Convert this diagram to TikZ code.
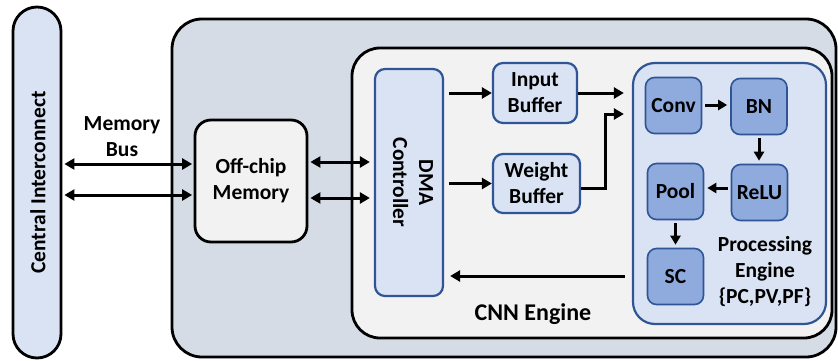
\documentclass[tikz,border=0pt]{standalone}
\usepackage{fontspec}
\setmainfont{Carlito}
\usetikzlibrary{arrows.meta}
\definecolor{lb}{HTML}{DAE3F3}
\definecolor{gb}{HTML}{D6DCE5}
\definecolor{lg}{HTML}{F2F2F2}
\definecolor{bb}{HTML}{2F5597}
\definecolor{mb}{HTML}{8FAADC}
\begin{document}
\begin{tikzpicture}[x=1pt,y=-1pt,
  font=\fontsize{21.5}{26}\selectfont\bfseries,
  base/.style={rectangle, inner sep=0pt, align=center},
  blackbox/.style={base, draw=black, line width=2.8pt},
  bluebox/.style={base, draw=bb, line width=2.2pt, fill=lb},
  opbox/.style={base, draw=bb, line width=1.6pt, fill=mb, rounded corners=9pt, minimum width=56pt, minimum height=56pt},
  tip/.style={Triangle[length=10pt,width=11pt]},
  arr/.style={-{Triangle[length=10pt,width=11pt]}, line width=3pt},
  dbl/.style={{Triangle[length=10pt,width=11pt]}-{Triangle[length=10pt,width=11pt]}, line width=3pt},
  sarr/.style={-{Triangle[length=9pt,width=10pt]}, line width=3pt, shorten <=3pt, shorten >=3pt},
  lbl/.style={align=center, inner sep=0pt}
]
\useasboundingbox (0,0) rectangle (838,361);

% containers
\node[blackbox, fill=gb, rounded corners=30pt, minimum width=664pt, minimum height=338pt] (chip) at (504,188) {};
\node[blackbox, fill=lg, rounded corners=28pt, minimum width=480pt, minimum height=290pt] (cnn) at (592,193) {};
\node[lbl, font=\fontsize{24}{28}\selectfont\bfseries] (cnnlbl) at (533,314) {CNN Engine};

% central interconnect
\node[blackbox, fill=lb, rounded corners=24pt, minimum width=48pt, minimum height=351pt] (ci) at (37,182.5) {};
\node[lbl, rotate=90] (citext) at (38,182.5) {Central Interconnect};

% off-chip memory
\node[blackbox, fill=lg, rounded corners=16pt, minimum width=112pt, minimum height=122pt] (ocm) at (251,181) {Off-chip\\Memory};
\node[lbl] (mbus) at (122,136.5) {Memory\\Bus};

% DMA
\node[bluebox, rounded corners=10pt, minimum width=68pt, minimum height=227pt] (dma) at (409,182.5) {};
\node[lbl, rotate=-90] (dmatext) at (413,182.5) {DMA\\Controller};

% buffers
\node[bluebox, rounded corners=10pt, minimum width=84pt, minimum height=60pt] (ib) at (535,93) {Input\\Buffer};
\node[bluebox, rounded corners=10pt, minimum width=87pt, minimum height=59pt] (wb) at (536.5,183.5) {Weight\\Buffer};

% processing engine
\node[bluebox, rounded corners=22pt, minimum width=193pt, minimum height=261pt] (pe) at (729.5,193.5) {};
\node[lbl] (petext) at (765,272) {Processing\\Engine\\\{PC,PV,PF\}};
\node[opbox] (conv) at (673.5,105.5) {Conv};
\node[opbox] (bn) at (759,106.5) {BN};
\node[opbox] (relu) at (759.5,192.5) {ReLU};
\node[opbox] (pool) at (675.5,191.5) {Pool};
\node[opbox] (sc) at (675.5,276.5) {SC};

% connectors
\draw[dbl, shorten <=2pt, shorten >=1.5pt] (ci.east |- 0,164) -- (ocm.west |- 0,164);
\draw[dbl, shorten <=2pt, shorten >=1.5pt] (ci.east |- 0,195) -- (ocm.west |- 0,195);
\draw[dbl, shorten <=2pt, shorten >=4pt] (ocm.east |- 0,162) -- (dma.west |- 0,162);
\draw[dbl, shorten <=2pt, shorten >=4pt] (ocm.east |- 0,198) -- (dma.west |- 0,198);
\draw[arr, shorten <=5pt] (dma.east |- ib.west) -- (ib.west);
\draw[arr, shorten <=5pt] (dma.east |- wb.west) -- (wb.west);
\draw[arr, shorten >=8pt] (ib.east) -- (ib.east -| pe.west);
\coordinate (wbbend) at (605,188.5);
\draw[arr, shorten >=8pt] ([yshift=-5pt]wb.east) -- (wbbend) |- (pe.west |- 0,114);
\draw[arr, shorten <=7pt, shorten >=6pt] (pe.west |- 0,276) -- (dma.east |- 0,276);
\draw[sarr] (conv.east |- 0,105) -- (bn.west |- 0,105);
\draw[sarr] (bn.south) -- (bn.south |- relu.north);
\draw[sarr] (relu.west |- 0,188) -- (pool.east |- 0,188);
\draw[sarr] (pool.south) -- (pool.south |- sc.north);
\end{tikzpicture}
\end{document}
